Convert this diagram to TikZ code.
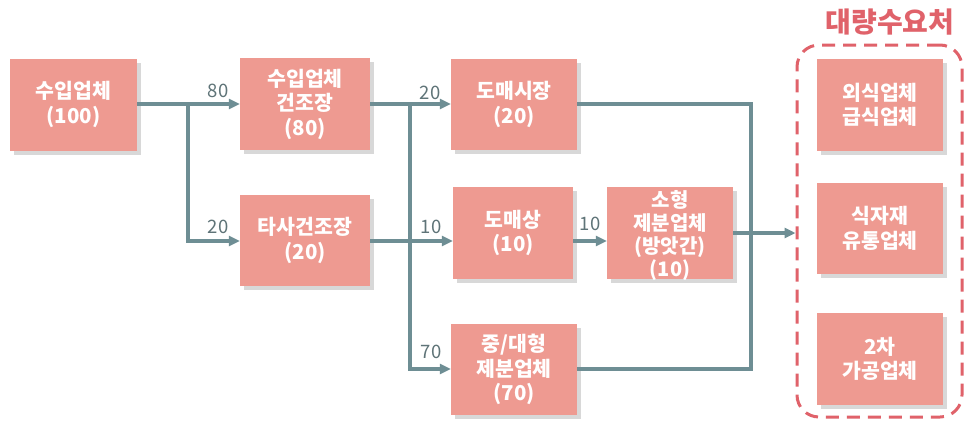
\documentclass[tikz,border=0pt]{standalone}
\usepackage{fontspec}
\setmainfont{Noto Sans CJK KR}
\usetikzlibrary{arrows.meta,shadows}
\definecolor{boxc}{RGB}{238,154,145}
\definecolor{linec}{RGB}{110,142,148}
\definecolor{labc}{RGB}{95,116,120}
\definecolor{redc}{RGB}{224,98,106}
\begin{document}
\begin{tikzpicture}[x=1pt,y=-1pt,
  box/.style={fill=boxc, text=white, font=\bfseries\fontsize{20.5}{24.5}\selectfont, align=center, inner sep=0pt,
    drop shadow={shadow xshift=4pt, shadow yshift=-4pt, opacity=0.3, fill=gray}},
  boxtext/.style={text=white, font=\bfseries\fontsize{20}{23}\selectfont, align=center, inner sep=0pt},
  conn/.style={draw=linec, line width=3.2pt},
  arr/.style={conn, -{Triangle[length=11pt,width=10pt]}},
  lab/.style={text=labc, font=\fontsize{18.5}{20}\selectfont, inner sep=0pt}]
\useasboundingbox[fill=white] (0,0) rectangle (966,421);

\node[box, minimum width=127pt, minimum height=92pt] (n1) at (73.5,104.5) {수입업체\\(100)};
\node[box, minimum width=130pt, minimum height=92pt] (n2) at (305,104) {수입업체\\건조장\\(80)};
\node[box, minimum width=130pt, minimum height=91pt] (n3) at (305,240.5) {타사건조장\\(20)};
\node[box, minimum width=126pt, minimum height=91pt] (n4) at (514,104.5) {도매시장\\(20)};
\node[box, minimum width=120pt, minimum height=92pt] (n5) at (513,233) {도매상\\(10)};
\node[box, minimum width=126pt, minimum height=92pt] (n6) at (670,233) {};
\node[boxtext] (n6t) at (670,236) {소형\\제분업체\\(방앗간)\\(10)};
\node[box, minimum width=126pt, minimum height=91pt] (n7) at (514,369.5) {중/대형\\제분업체\\(70)};

\node[box, minimum width=126pt, minimum height=92pt] (r1) at (880,105) {외식업체\\급식업체};
\node[box, minimum width=126pt, minimum height=91pt] (r2) at (880,228.5) {식자재\\유통업체};
\node[box, minimum width=126pt, minimum height=92pt] (r3) at (880,359) {2차\\가공업체};

\node[draw=redc, line width=3pt, dash pattern=on 13pt off 8pt, rounded corners=22pt,
  minimum width=165pt, minimum height=372pt, inner sep=0pt] (grp) at (879.5,231) {};
\node[text=redc, font=\bfseries\fontsize{28}{30}\selectfont, inner sep=0pt] (title) at (890,22) {대량수요처};

% connectors
\coordinate (b1) at (188,104);
\coordinate (b1d) at (188,241);
\draw[arr] (n1.east |- b1) -- (n2.west |- b1);
\draw[arr] (b1) -- (b1d) -- (n3.west |- b1d);

\coordinate (b2) at (410,104);
\coordinate (b2d) at (410,369);
\coordinate (m) at (0,241);
\draw[arr] (n2.east |- b2) -- (n4.west |- b2);
\draw[arr] (b2) -- (b2d) -- (n7.west |- b2d);
\draw[arr] (n3.east |- m) -- (n5.west |- m);
\draw[arr] (n5.east |- m) -- (n6.west |- m);

\coordinate (c1) at (751,104);
\coordinate (c2) at (751,369);
\coordinate (c3) at (0,233);
\draw[conn] (n4.east |- c1) -- (c1) -- (c2) -- (n7.east |- c2);
\draw[arr] (n6.east |- c3) -- (grp.west |- c3);

% labels
\node[lab] (l1) at (218,91) {80};
\node[lab] (l2) at (218,227) {20};
\node[lab] (l3) at (430,93) {20};
\node[lab] (l4) at (431,227) {10};
\node[lab] (l5) at (431,352) {70};
\node[lab] (l6) at (590,224) {10};
\end{tikzpicture}
\end{document}
